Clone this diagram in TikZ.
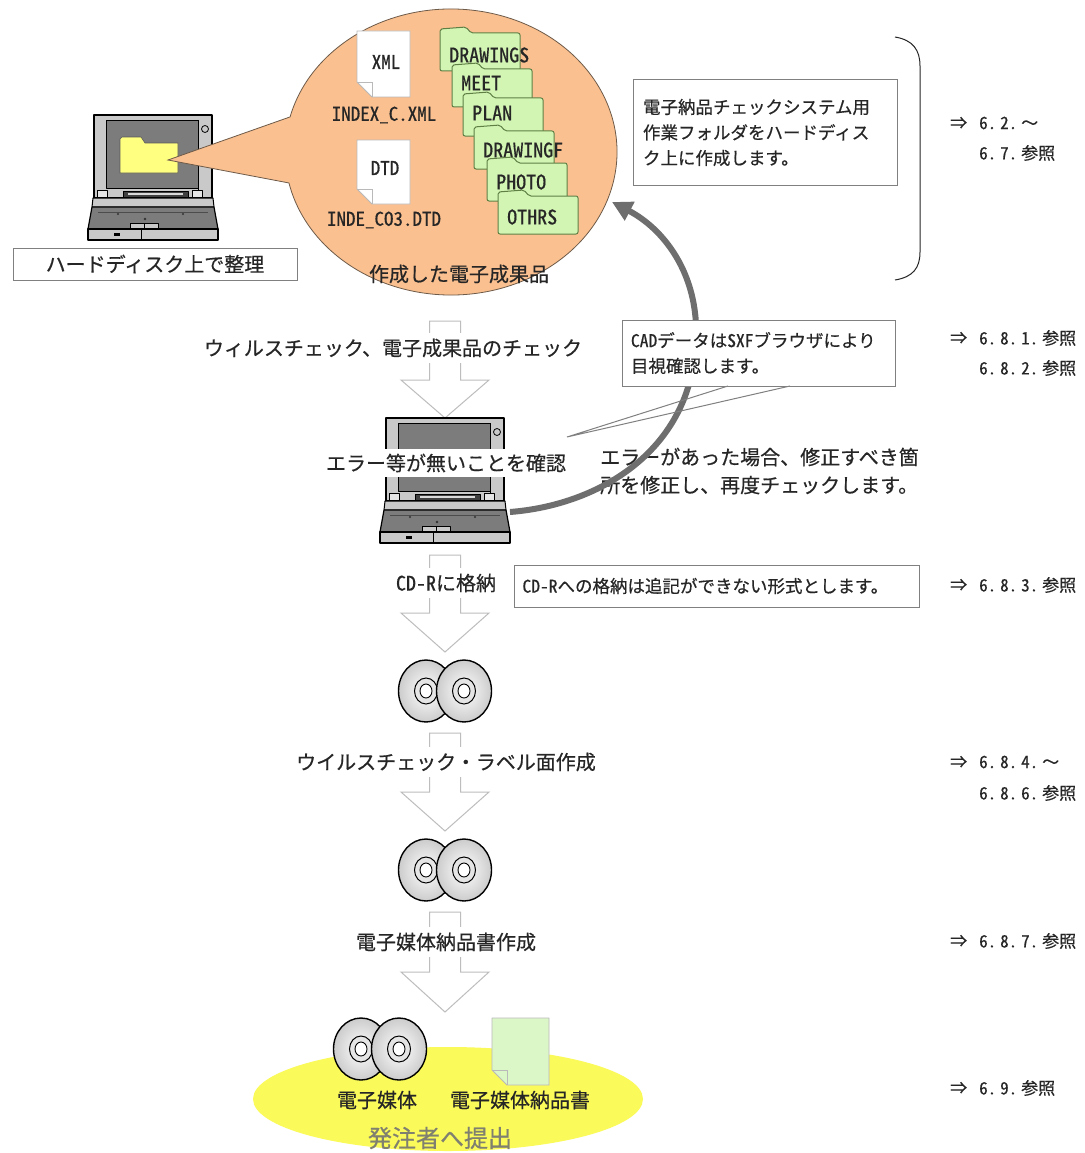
\documentclass[tikz,border=0pt]{standalone}
\usepackage{fontspec}
\setmainfont{Noto Sans CJK JP}[FakeBold=0.5]
\newfontfamily\hw{Noto Sans CJK JP}[RawFeature=+hwid, FakeBold=0.5]
\usetikzlibrary{arrows.meta}

\definecolor{ink}{HTML}{262626}
\definecolor{bubbleorange}{HTML}{FAC090}
\definecolor{bubbleedge}{HTML}{6E5A48}
\definecolor{foldergreen}{HTML}{D2F5B4}
\definecolor{folderedge}{HTML}{5F7F45}
\definecolor{docgreen}{HTML}{DBF7C8}
\definecolor{padyellow}{HTML}{FAFA5A}
\definecolor{lapdark}{HTML}{7C7C7C}
\definecolor{laplight}{HTML}{C9C9C9}
\definecolor{flowgray}{HTML}{BDBDBD}
\definecolor{loopgray}{HTML}{6E6E6E}
\definecolor{boxedge}{HTML}{808080}
\definecolor{submitgray}{HTML}{808070}
\definecolor{screenyellow}{HTML}{FFFF80}

% hollow downward block arrow: centre x, shaft top, head base, tip
\newcommand\blockarrow[4]{%
  \draw[flowline] (#1-15.5,#2) -- (#1+15.5,#2) -- (#1+15.5,#3) -- (#1+44,#3)
    -- (#1,#4) -- (#1-44,#3) -- (#1-15.5,#3) -- cycle;}

% notebook computer, top-left corner at (#1,#2)
\newcommand\laptop[2]{%
  \begin{scope}[shift={(#1,#2)}, line join=round]
    \filldraw[fill=laplight, draw=black, line width=1.3pt] (6,0) rectangle (124,83);
    \filldraw[fill=lapdark, draw=black, line width=0.8pt] (18,5) rectangle (110,73);
    \draw[line width=0.7pt] (110,5) -- (110,83);
    \draw[line width=0.8pt] (117,14) circle[radius=3.5];
    \filldraw[fill=white!80!gray, draw=black, line width=0.8pt] (9,75) rectangle (19,82);
    \filldraw[fill=white!80!gray, draw=black, line width=0.8pt] (104,75) rectangle (114,82);
    \filldraw[fill=black!75, draw=black, line width=0.6pt] (35,76.5) rectangle (100,82);
    \fill[white!70!gray] (40,78.3) rectangle (95,80.3);
    \filldraw[fill=laplight, draw=black, line width=1pt] (5,83) -- (125,83) -- (126,92) -- (4,92) -- cycle;
    \filldraw[fill=lapdark, draw=black, line width=1.2pt] (4,92) -- (126,92) -- (130,114) -- (0,114) -- cycle;
    \draw[black!70, line width=0.6pt] (10,97) -- (120,97);
    \fill[black!80] (57,104) circle[radius=1.4] (95,99) circle[radius=1.2] (30,99) circle[radius=1.1];
    \filldraw[fill=laplight, draw=black, line width=0.9pt] (42,108) rectangle (56,114) (56,108) rectangle (70,114);
    \filldraw[fill=laplight, draw=black, line width=1.3pt] (0,114) rectangle (130,125);
    \draw[line width=1pt] (53,114) -- (53,125);
    \fill[black] (26,117.5) rectangle (32,121);
  \end{scope}}

% sheet of paper with the lower-left corner turned up
\newcommand\docsheet[5]{%
  \filldraw[fill=#5, draw=gray!55, line width=0.8pt] (#1,#2) -- (#3,#2) -- (#3,#4)
    -- (#1+15,#4) -- (#1,#4-15) -- cycle;
  \draw[gray!55, line width=0.8pt] (#1,#4-15) -- (#1+15,#4-15) -- (#1+15,#4);}

% green folder with tab, label drawn with it
\newcommand\greenfolder[5]{%
  \begin{scope}[shift={(#1,#2)}]
    \filldraw[fill=foldergreen, draw=folderedge, line width=1pt, rounded corners=2pt]
      (0,44) -- (0,2) -- (26,0) -- (31,6) -- (80,6) -- (80,44) -- cycle;
    \node[folderlabel] (#3) at (9,#5) {#4};
  \end{scope}}

% one compact disc
\newcommand\cdisc[2]{%
  \shadedraw[inner color=white, outer color=gray!40, draw=black, line width=1.4pt]
    (#1,#2) ellipse[x radius=27.5, y radius=31];
  \filldraw[fill=gray!20, draw=black, line width=1pt] (#1,#2) ellipse[x radius=11.5, y radius=13];
  \filldraw[fill=white, draw=black, line width=0.9pt] (#1,#2) ellipse[x radius=6, y radius=7];}
\newcommand\discpair[2]{\cdisc{#1-19}{#2}\cdisc{#1+19}{#2}}

% section number set in half-width digits, e.g. \secno{6.}{8.}{1.}
\newcommand\secno[1]{{\hw #1}}

\begin{document}
\begin{tikzpicture}[x=1pt, y=-1pt,
  txt/.style={font=\fontsize{20}{24}\selectfont, text=ink, inner sep=0pt},
  band/.style={txt, fill=white, inner xsep=4pt, inner ysep=6pt},
  note/.style={font=\fontsize{17.5}{25.5}\selectfont, text=ink, align=left},
  framed/.style={draw=boxedge, line width=1pt, fill=white},
  refsize/.style={font=\fontsize{17}{20}\selectfont, text=ink, inner sep=0pt, anchor=west},
  folderlabel/.style={font=\hw\fontsize{20}{24}\selectfont, text=ink, inner sep=0pt, anchor=west},
  flowline/.style={draw=flowgray, line width=1pt, fill=white, line join=miter},
  bubble/.style={fill=bubbleorange, draw=bubbleedge, line width=0.8pt}]

\fill[white] (0,0) rectangle (1084,1153);
\useasboundingbox (0,0) rectangle (1084,1153);

% ---------- computer with the working folder ----------
\laptop{88}{115}
\filldraw[fill=screenyellow, draw=gray!70!black, line width=0.6pt]
  (120,173) -- (120,139) -- (122,137) -- (141,137) -- (145,143) -- (178,143) -- (178,173) -- cycle;
\node[framed, minimum width=284, minimum height=32, txt] (hdd) at (155,264) {ハードディスク上で整理};

% ---------- speech bubble with the prepared deliverables ----------
\path[bubble] (451,152) ++(194.2:166 and 143)
  arc[start angle=194.2, end angle=527.5, x radius=166, y radius=143] -- (168,160) -- cycle;
\docsheet{357}{31}{410}{97}{white}
\node[font=\hw\fontsize{19}{22}\selectfont, text=ink, inner sep=0pt] (xmlmark) at (386,62) {XML};
\node[font=\hw\fontsize{19}{22}\selectfont, text=ink, inner sep=0pt] (xmlname) at (384,115) {INDEX\_C.XML};
\docsheet{357}{140}{410}{204}{white}
\node[font=\hw\fontsize{19}{22}\selectfont, text=ink, inner sep=0pt] (dtdmark) at (385,168) {DTD};
\node[font=\hw\fontsize{19}{22}\selectfont, text=ink, inner sep=0pt] (dtdname) at (384,220) {INDE\_CO3.DTD};
\greenfolder{440}{27}{fdrawings}{DRAWINGS}{28}
\greenfolder{452}{63}{fmeet}{MEET}{20}
\greenfolder{463}{92}{fplan}{PLAN}{21}
\greenfolder{474}{125}{fdrawingf}{DRAWINGF}{25}
\greenfolder{487}{157}{fphoto}{PHOTO}{25}
\greenfolder{498}{190}{fothrs}{OTHRS}{27}
\node[txt] (madeitems) at (459,274) {作成した電子成果品};

% ---------- explanation of the work folder ----------
\node[framed, minimum width=264, minimum height=105, text width=244, note] (folderbox) at (765,132.5)
  {電子納品チェックシステム用\\作業フォルダをハードディス\\ク上に作成します。};
\draw[ink, line width=1pt] (895,37) .. controls (913,40) and (920,50) .. (920,66)
  -- (920,252) .. controls (920,268) and (913,277) .. (895,280);
\node[refsize] (ra1) at (950,123) {⇒};
\node[refsize] (ra2) at (979,123) {\secno{6.\hspace{4pt}2.}\hspace{4pt}～};
\node[refsize] (ra3) at (979,153) {\secno{6.\hspace{4pt}7.}\hspace{4pt}参照};

% ---------- virus check and deliverable check ----------
\blockarrow{445}{321}{380}{418}
\node[band] (step1) at (393,348) {ウィルスチェック、電子成果品のチェック};
\laptop{380}{418}
\node[band, inner ysep=5pt] (step2) at (446,463) {エラー等が無いことを確認};
\node[txt, align=left, anchor=west, font=\fontsize{20}{28}\selectfont] (fixnote) at (600,471)
  {エラーがあった場合、修正すべき箇\\所を修正し、再度チェックします。};

\coordinate (lapout) at (510,512);
\coordinate (bubblein) at (612,202);
\draw[loopgray, line width=6pt, -{Triangle[length=20pt, width=20pt]}]
  (lapout) .. controls (600,505) and (692,450) .. (696,340)
  .. controls (699,272) and (662,228) .. (bubblein);

\node[framed, minimum width=273, minimum height=66, text width=255, note, inner sep=0pt] (cadbox) at (758.5,353)
  {{\hw CAD}データは{\hw SXF}ブラウザにより\\目視確認します。};
\coordinate (cadA) at (728,386);
\coordinate (cadB) at (790,386);
\coordinate (cadtip) at (567,437);
\draw[boxedge, line width=1pt] (cadA) -- (cadtip) -- (cadB);
\node[refsize] (rb1) at (950,338) {⇒};
\node[refsize] (rb2) at (979,338) {\secno{6.\hspace{4pt}8.\hspace{4pt}1.}\hspace{4pt}参照};
\node[refsize] (rb3) at (979,368) {\secno{6.\hspace{4pt}8.\hspace{4pt}2.}\hspace{4pt}参照};

% ---------- writing to CD-R ----------
\blockarrow{445}{555}{613}{652}
\node[band] (step3) at (446,583) {{\hw CD-R}に格納};
\node[framed, minimum width=405, minimum height=42, text width=388, note, inner sep=0pt] (cdbox) at (716.5,586)
  {{\hw CD-R}への格納は追記ができない形式とします。};
\node[refsize] (rc1) at (950,585) {⇒};
\node[refsize] (rc2) at (979,585) {\secno{6.\hspace{4pt}8.\hspace{4pt}3.}\hspace{4pt}参照};
\discpair{445}{691}

% ---------- virus check and label printing ----------
\blockarrow{445}{733}{792}{831}
\node[band] (step4) at (446,762) {ウイルスチェック・ラベル面作成};
\node[refsize] (rd1) at (950,762) {⇒};
\node[refsize] (rd2) at (979,762) {\secno{6.\hspace{4pt}8.\hspace{4pt}4.}\hspace{4pt}～};
\node[refsize] (rd3) at (979,793) {\secno{6.\hspace{4pt}8.\hspace{4pt}6.}\hspace{4pt}参照};
\discpair{445}{870}

% ---------- delivery note ----------
\blockarrow{445}{912}{972}{1012}
\node[band] (step5) at (446,942) {電子媒体納品書作成};
\node[refsize] (re1) at (950,941) {⇒};
\node[refsize] (re2) at (979,941) {\secno{6.\hspace{4pt}8.\hspace{4pt}7.}\hspace{4pt}参照};

% ---------- submission ----------
\fill[padyellow] (448,1099) ellipse[x radius=195, y radius=52];
\discpair{380}{1049}
\docsheet{492}{1018}{549}{1085}{docgreen}
\node[txt] (media) at (377,1100) {電子媒体};
\node[txt] (note) at (520,1100) {電子媒体納品書};
\node[txt, text=submitgray, font=\fontsize{24}{28}\selectfont] (submit) at (440,1138) {発注者へ提出};
\node[refsize] (rf1) at (950,1088) {⇒};
\node[refsize] (rf2) at (979,1088) {\secno{6.\hspace{4pt}9.}\hspace{4pt}参照};
\end{tikzpicture}
\end{document}
